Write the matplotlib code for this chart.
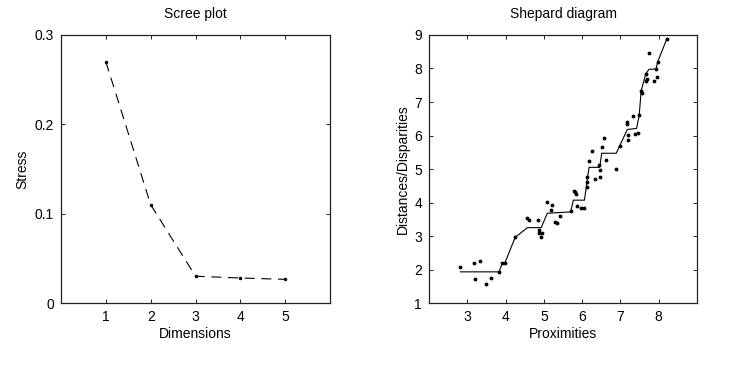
import matplotlib.pyplot as plt

plt.rcParams["font.family"] = ["Liberation Sans", "DejaVu Sans"]
plt.rcParams["font.size"] = 10

# Scree plot
dims = [1, 2, 3, 4, 5]
stress = [0.27, 0.11, 0.030, 0.028, 0.0265]

# Shepard diagram: points (proximity, distance)
prox = [2.82, 3.18, 3.32, 3.19, 3.50, 3.62, 3.83, 3.91, 3.98, 4.25,
        4.57, 4.60, 4.85, 4.87, 4.87, 4.94, 4.93, 5.07, 5.21, 5.19,
        5.30, 5.33, 5.43, 5.70, 5.79, 5.82, 5.85, 5.86, 5.97, 6.06,
        6.13, 6.13, 6.13, 6.17, 6.27, 6.33, 6.47, 6.45, 6.46, 6.52,
        6.58, 6.61, 6.88, 6.99, 7.16, 7.18, 7.20, 7.20, 7.38, 7.45,
        7.32, 7.49, 7.54, 7.56, 7.66, 7.70, 7.68, 7.87, 7.95, 7.93,
        7.97, 7.75, 8.21]
dist = [2.07, 2.19, 2.24, 1.72, 1.57, 1.74, 1.93, 2.18, 2.19, 2.96,
        3.53, 3.47, 3.48, 3.18, 3.10, 3.08, 2.97, 4.01, 3.92, 3.78,
        3.41, 3.38, 3.61, 3.75, 4.35, 4.31, 4.25, 3.90, 3.84, 3.84,
        4.75, 4.62, 4.45, 5.23, 5.54, 4.71, 4.75, 5.12, 4.97, 5.65,
        5.92, 5.26, 5.01, 5.68, 6.41, 6.34, 6.01, 5.86, 6.04, 6.08,
        6.58, 6.60, 7.32, 7.28, 7.84, 7.68, 7.62, 7.64, 7.76, 7.98,
        8.19, 8.45, 8.88]

# disparities (monotone fit)
disp_x = [2.82, 3.83, 3.91, 3.98, 4.25, 4.57, 4.93, 5.09, 5.70, 5.77,
          6.06, 6.18, 6.46, 6.51, 6.89, 7.18, 7.42, 7.49, 7.54, 7.66,
          7.75, 7.93, 7.97, 8.21]
disp_y = [1.93, 1.93, 2.18, 2.19, 2.96, 3.25, 3.25, 3.68, 3.72, 4.07,
          4.07, 5.05, 5.05, 5.47, 5.47, 6.18, 6.21, 6.60, 7.32, 7.84,
          7.98, 7.98, 8.19, 8.88]

fig = plt.figure(figsize=(7.3, 3.68), dpi=100)
ax1 = fig.add_axes([0.0836, 0.1766, 0.3685, 0.7283])
ax2 = fig.add_axes([0.5877, 0.1766, 0.3671, 0.7283])

ax1.plot(dims, stress, "--", color="k", linewidth=0.8, dashes=(9, 6),
         marker=".", markersize=3)
ax1.set_xlim(0, 6)
ax1.set_ylim(0, 0.3)
ax1.set_xticks(dims)
ax1.set_yticks([0, 0.1, 0.2, 0.3])
ax1.set_yticklabels(["0", "0.1", "0.2", "0.3"])
ax1.set_xlabel("Dimensions", labelpad=2)
ax1.set_ylabel("Stress", labelpad=4)
ax1.set_title("Scree plot", fontsize=10, pad=12)

ax2.plot(prox, dist, ".", color="k", markersize=3.5)
ax2.plot(disp_x, disp_y, "-", color="k", linewidth=0.8)
ax2.set_xlim(2, 9)
ax2.set_ylim(1, 9)
ax2.set_xticks([3, 4, 5, 6, 7, 8])
ax2.set_yticks(range(1, 10))
ax2.set_xlabel("Proximities", labelpad=2)
ax2.set_ylabel("Distances/Disparities", labelpad=3)
ax2.set_title("Shepard diagram", fontsize=10, pad=12)

for ax in (ax1, ax2):
    ax.tick_params(direction="in", top=True, right=True, length=3,
                   width=0.6, labelsize=10, pad=5)
    for s in ax.spines.values():
        s.set_linewidth(0.9)
        s.set_color("#222222")

fig.savefig("out.png", dpi=100)
